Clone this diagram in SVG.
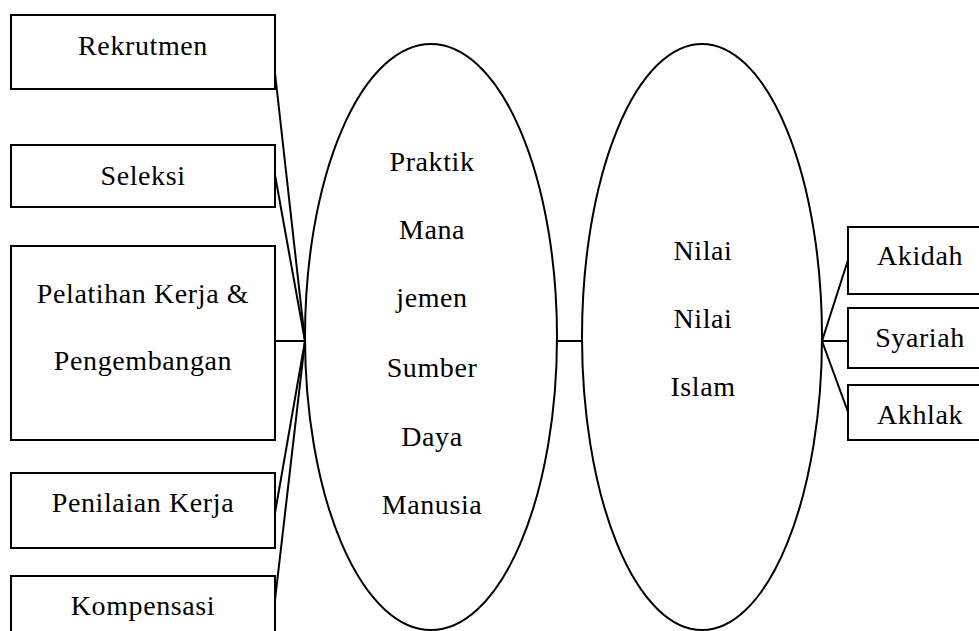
<svg xmlns="http://www.w3.org/2000/svg" width="979" height="631" viewBox="0 0 979 631">
  <style>
    .box { fill: #ffffff; stroke: #000000; stroke-width: 2; }
    .oval { fill: none; stroke: #000000; stroke-width: 2; }
    .link { fill: none; stroke: #000000; stroke-width: 2; }
    .lbl { font-family: "Liberation Serif", "Times New Roman", serif; font-size: 28px; letter-spacing: 0.6px; fill: #000000; text-anchor: middle; }
  </style>
  <rect width="979" height="631" fill="#ffffff"/>

  <!-- connectors -->
  <g id="connectors">
    <line class="link" x1="275" y1="73" x2="305" y2="341"/>
    <line class="link" x1="275" y1="175" x2="305" y2="341"/>
    <line class="link" x1="275" y1="341" x2="305" y2="341"/>
    <line class="link" x1="275" y1="513" x2="305" y2="341"/>
    <line class="link" x1="275" y1="600" x2="305" y2="341"/>
    <line class="link" x1="557" y1="341" x2="583" y2="341"/>
    <line class="link" x1="822" y1="341" x2="848" y2="260"/>
    <line class="link" x1="822" y1="341" x2="848" y2="341"/>
    <line class="link" x1="822" y1="341" x2="848" y2="412"/>
  </g>

  <!-- HR practice boxes -->
  <g id="rekrutmen">
    <rect class="box" x="11" y="15" width="264" height="74"/>
    <text class="lbl" x="143" y="55">Rekrutmen</text>
  </g>
  <g id="seleksi">
    <rect class="box" x="11" y="145" width="264" height="62"/>
    <text class="lbl" x="143" y="185">Seleksi</text>
  </g>
  <g id="pelatihan">
    <rect class="box" x="11" y="246" width="264" height="194"/>
    <text class="lbl" x="143" y="303">Pelatihan Kerja &amp;</text>
    <text class="lbl" x="143" y="370">Pengembangan</text>
  </g>
  <g id="penilaian">
    <rect class="box" x="11" y="473" width="264" height="75"/>
    <text class="lbl" x="143" y="512">Penilaian Kerja</text>
  </g>
  <g id="kompensasi">
    <rect class="box" x="11" y="576" width="264" height="70"/>
    <text class="lbl" x="143" y="615">Kompensasi</text>
  </g>

  <!-- central ellipses -->
  <g id="praktik-msdm">
    <ellipse class="oval" cx="431" cy="337" rx="126" ry="293"/>
    <text class="lbl" x="432" y="171">Praktik</text>
    <text class="lbl" x="432" y="239">Mana</text>
    <text class="lbl" x="432" y="307">jemen</text>
    <text class="lbl" x="432" y="377">Sumber</text>
    <text class="lbl" x="432" y="446">Daya</text>
    <text class="lbl" x="432" y="514">Manusia</text>
  </g>
  <g id="nilai-islam">
    <ellipse class="oval" cx="702" cy="337" rx="120" ry="293"/>
    <text class="lbl" x="703" y="260">Nilai</text>
    <text class="lbl" x="703" y="328">Nilai</text>
    <text class="lbl" x="703" y="396">Islam</text>
  </g>

  <!-- Islamic value boxes -->
  <g id="akidah">
    <rect class="box" x="848" y="227" width="144" height="67"/>
    <text class="lbl" x="920" y="265">Akidah</text>
  </g>
  <g id="syariah">
    <rect class="box" x="848" y="308" width="144" height="60"/>
    <text class="lbl" x="920" y="347">Syariah</text>
  </g>
  <g id="akhlak">
    <rect class="box" x="848" y="385" width="144" height="55"/>
    <text class="lbl" x="920" y="424">Akhlak</text>
  </g>
</svg>
